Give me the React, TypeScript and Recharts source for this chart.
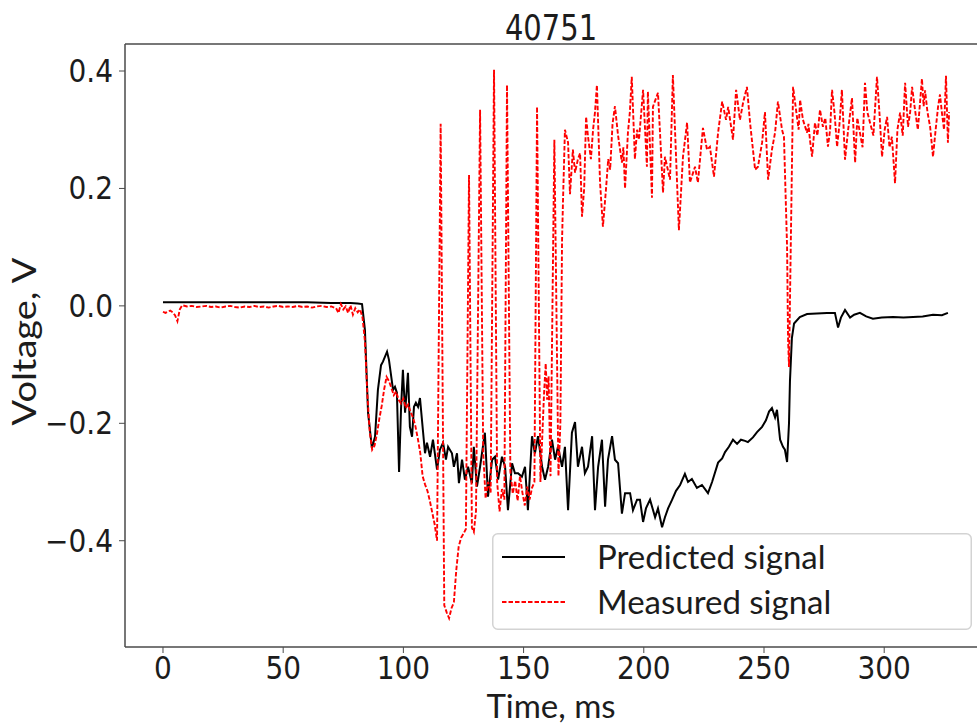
import React from 'react';
import { LineChart, Line, XAxis, YAxis, Legend, ReferenceLine } from 'recharts';

// ---- data ----
const TITLE = '40751';
const X_LABEL = 'Time, ms';
const Y_LABEL = 'Voltage, V';
const X_TICKS = [0, 50, 100, 150, 200, 250, 300];
const Y_TICKS = [-0.4, -0.2, 0, 0.2, 0.4];
const X_DOMAIN: [number, number] = [-15.8, 338.6];
const Y_DOMAIN: [number, number] = [-0.581, 0.446];

const SERIES_NAMES = ['Predicted signal', 'Measured signal'];

// [time ms, voltage V]
const PREDICTED: [number, number][] = [
  [0, 0.006], [10, 0.006], [20, 0.006], [30, 0.006], [40, 0.006], [50, 0.006], [60, 0.006], [70, 0.005],
  [78, 0.005], [81, 0.004], [82.8, 0.003], [84, -0.041], [85.3, -0.182], [86.9, -0.242], [88.2, -0.223],
  [89.4, -0.143], [90.7, -0.101], [91.5, -0.095], [93.2, -0.078], [94, -0.092], [95.3, -0.131], [95.7, -0.143],
  [96.5, -0.138], [97.3, -0.148], [98.2, -0.283], [99, -0.177], [99.8, -0.109], [100.7, -0.182], [101.9, -0.114],
  [102.7, -0.206], [103.6, -0.223], [104.4, -0.172], [105.2, -0.165], [106.1, -0.172], [106.9, -0.157],
  [108.1, -0.211], [109, -0.251], [109.8, -0.233], [111.1, -0.257], [112.3, -0.228], [114, -0.279],
  [115.2, -0.245], [116.5, -0.233], [117.7, -0.262], [118.6, -0.24], [120.2, -0.251], [121, -0.274],
  [122.3, -0.251], [123.1, -0.302], [124.4, -0.262], [125.6, -0.296], [126.9, -0.274], [128.5, -0.302],
  [129.3, -0.24], [130.6, -0.308], [131.9, -0.274], [133.9, -0.216], [135.2, -0.325], [136.9, -0.262],
  [138.1, -0.257], [139.4, -0.296], [141, -0.257], [142.3, -0.274], [143.5, -0.348], [145.2, -0.268],
  [146.4, -0.285], [147.7, -0.285], [149.3, -0.291], [150.6, -0.274], [151.8, -0.348], [153.5, -0.222],
  [154.7, -0.251], [156, -0.222], [157.7, -0.274], [158.9, -0.296], [160.2, -0.274], [161.8, -0.228],
  [163.1, -0.262], [164.3, -0.24], [166, -0.274], [167.2, -0.24], [168.5, -0.348], [170.1, -0.216],
  [171.4, -0.198], [172.6, -0.274], [174.3, -0.24], [175.5, -0.285], [176.8, -0.274], [178.5, -0.222],
  [179.7, -0.348], [181, -0.274], [182.6, -0.228], [183.9, -0.342], [185.1, -0.262], [186.8, -0.222],
  [188, -0.262], [189.3, -0.268], [190.9, -0.354], [192.2, -0.319], [194.3, -0.319], [195.5, -0.348],
  [197.2, -0.33], [198.4, -0.33], [199.7, -0.368], [200.9, -0.345], [202.6, -0.33], [204.7, -0.36],
  [205.9, -0.345], [207.6, -0.377], [208.8, -0.36], [210.1, -0.345], [211.7, -0.331], [213.4, -0.315],
  [215.1, -0.305], [217.1, -0.286], [218.4, -0.3], [220, -0.295], [222.1, -0.31], [224.2, -0.305],
  [226.7, -0.319], [228.4, -0.3], [230.9, -0.267], [232.6, -0.26], [233.8, -0.249], [235.4, -0.24],
  [237.1, -0.228], [238.8, -0.235], [240.4, -0.228], [242.1, -0.23], [243.3, -0.232], [245.4, -0.224],
  [247.1, -0.215], [249.2, -0.206], [250.8, -0.195], [252.1, -0.18], [253.3, -0.174], [254.6, -0.19],
  [255.4, -0.177], [256.7, -0.228], [257.9, -0.24], [258.7, -0.245], [259.6, -0.266], [260.4, -0.2],
  [260.8, -0.128], [261.6, -0.055], [262.5, -0.03], [264.9, -0.019], [267.9, -0.014], [272, -0.013],
  [276.2, -0.012], [279.5, -0.012], [280.8, -0.037], [282, -0.02], [283.7, -0.007], [285.8, -0.02],
  [287.5, -0.015], [289.9, -0.012], [292.5, -0.018], [295.3, -0.022], [299, -0.02], [303.7, -0.019],
  [308, -0.02], [312, -0.019], [316, -0.018], [320.3, -0.015], [324, -0.016], [326.5, -0.012],
];

const MEASURED: [number, number][] = [
  [0, -0.01], [1, -0.012], [2, -0.01], [3, -0.008], [4, -0.011], [5, -0.016], [6, -0.026], [7, -0.006],
  [8, 0.001], [10, -0.001], [12, 0], [14, -0.002], [16, -0.001], [18, 0], [20, -0.002], [22, -0.001],
  [24, -0.003], [26, -0.001], [28, 0], [30, -0.002], [32, -0.003], [34, -0.001], [36, -0.002], [38, 0],
  [40, -0.002], [42, -0.001], [44, -0.003], [46, -0.001], [48, 0], [50, -0.002], [52, -0.001], [54, -0.002],
  [56, 0], [58, -0.002], [60, -0.001], [62, -0.003], [64, -0.001], [66, 0], [68, -0.002], [70, -0.001],
  [72, -0.004], [73, -0.012], [74, 0.003], [75, -0.006], [76, -0.001], [77, -0.012], [78, 0.001],
  [79, -0.015], [80, -0.004], [81, -0.011], [82, -0.006], [83, -0.02], [84, -0.06], [85, -0.15],
  [86, -0.215], [87, -0.245], [88, -0.238], [89, -0.218], [90, -0.192], [91, -0.17], [92, -0.142],
  [93, -0.121], [94, -0.128], [95, -0.14], [96, -0.152], [97, -0.146], [98, -0.16], [99, -0.166],
  [100, -0.158], [101, -0.174], [102, -0.168], [103, -0.181], [104, -0.19], [105, -0.205], [106, -0.226],
  [107, -0.25], [108, -0.29], [109, -0.304], [110, -0.315], [111, -0.332], [112, -0.352], [113, -0.372],
  [114, -0.4], [115.5, 0.31], [117, -0.51], [118, -0.522], [119, -0.532], [120, -0.515], [121, -0.505],
  [122, -0.45], [123, -0.41], [124, -0.395], [125, -0.388], [126, -0.38], [127.3, 0.223], [128.5, -0.378],
  [129.3, -0.385], [130.2, -0.35], [131.9, 0.334], [133.2, -0.25], [134.2, -0.328], [135.2, -0.3],
  [136.3, -0.318], [137.7, 0.402], [139, -0.3], [140, -0.35], [141, -0.312], [142, -0.33], [143.1, 0.376],
  [144.5, -0.282], [145.5, -0.32], [146.5, -0.298], [147.5, -0.332], [148.5, -0.29], [149.5, -0.318],
  [150.5, -0.34], [151.5, -0.308], [152.5, -0.33], [153.5, -0.31], [154.5, -0.3], [155.6, 0.339],
  [157, -0.3], [157.8, -0.22], [158.5, -0.15], [159.2, -0.098], [159.8, -0.16], [160.4, -0.12],
  [161.2, -0.29], [162.8, 0.283], [164.5, -0.29], [165.3, -0.2], [166, 0.112], [166.4, 0.18], [167.2, 0.3],
  [168.5, 0.278], [169.3, 0.19], [170.5, 0.266], [171.4, 0.227], [172.6, 0.25], [173.5, 0.26], [174.3, 0.152],
  [175.2, 0.2], [176, 0.322], [176.8, 0.288], [178, 0.25], [178.9, 0.3], [179.7, 0.33], [180.5, 0.376],
  [181.8, 0.21], [183, 0.135], [184.3, 0.2], [185.2, 0.25], [186, 0.232], [187, 0.31], [188, 0.34],
  [189.3, 0.29], [190.9, 0.244], [191.5, 0.27], [192.2, 0.2], [193.4, 0.295], [194.2, 0.33], [195, 0.39],
  [196.3, 0.25], [197.2, 0.3], [198, 0.283], [199.7, 0.368], [201.3, 0.237], [201.7, 0.365], [203.4, 0.184],
  [203.8, 0.339], [205.9, 0.363], [208, 0.193], [208.8, 0.254], [210.9, 0.215], [212.1, 0.393],
  [214.6, 0.129], [216.3, 0.254], [218, 0.312], [219.2, 0.21], [221.3, 0.237], [222.5, 0.21], [224.6, 0.303],
  [226.3, 0.266], [227.5, 0.271], [229.2, 0.22], [230.9, 0.295], [232.6, 0.348], [234.2, 0.317],
  [235.1, 0.339], [237.1, 0.283], [238.4, 0.368], [240, 0.317], [241.3, 0.346], [242.9, 0.373],
  [244.2, 0.312], [246.3, 0.232], [247.5, 0.237], [249.2, 0.278], [250.4, 0.33], [251.7, 0.215],
  [253.3, 0.266], [254.6, 0.295], [255.8, 0.348], [257.5, 0.3], [258.3, 0.288], [259.6, 0.1], [260, -0.055],
  [260.4, -0.104], [262.1, 0.373], [263.7, 0.322], [264.4, 0.3], [265, 0.351], [266.2, 0.317], [267.9, 0.295],
  [268.5, 0.31], [269.1, 0.283], [270, 0.254], [271.2, 0.312], [272.2, 0.29], [273.3, 0.334], [274.5, 0.305],
  [275.5, 0.32], [276.6, 0.271], [277.5, 0.3], [278.3, 0.368], [279.3, 0.33], [280.4, 0.271], [281.4, 0.31],
  [282.4, 0.368], [283.7, 0.249], [285, 0.3], [286.6, 0.354], [287.9, 0.244], [288.8, 0.32], [289.9, 0.295],
  [291, 0.27], [292, 0.38], [293, 0.33], [294.1, 0.312], [295.5, 0.29], [297, 0.39], [298, 0.33],
  [299.1, 0.254], [300.2, 0.3], [301.2, 0.322], [302.2, 0.27], [303.2, 0.288], [304.5, 0.209], [305.5, 0.3],
  [306.6, 0.329], [307.7, 0.29], [308.7, 0.38], [309.9, 0.305], [310.8, 0.33], [311.6, 0.373], [312.8, 0.334],
  [314, 0.3], [315.7, 0.387], [316.4, 0.34], [317, 0.367], [318, 0.33], [319.1, 0.305], [320.3, 0.254],
  [321.4, 0.3], [322.4, 0.339], [323.2, 0.36], [324, 0.329], [324.9, 0.3], [325.7, 0.392], [326.5, 0.278],
  [327, 0.33],
];

// ---- styling ----
const SPINE = '#4a4a4a';
const TEXT = '#1c1c1c';
const TICK_FONT = '"DejaVu Sans", sans-serif';
const LABEL_FONT = 'Lato, "Open Sans", sans-serif';
const SY = 1.12;
const PRED_COLOR = '#000000';
const MEAS_COLOR = '#ff0000';
const MEAS_DASH = '4.5 2';

const predictedData = PREDICTED.map(([t, v]) => ({ t, v }));
const measuredData = MEASURED.map(([t, v]) => ({ t, v }));

const fmtY = (v: number) => v.toFixed(1).replace('-', '\u2212');

const XTick = (props: any) => {
  const { x, y, payload } = props;
  return (
    <g transform={`translate(${x},${y})`}>
      <text transform={`scale(1,${SY})`} x={0} y={24 / SY} textAnchor="middle"
        fontFamily={TICK_FONT} fontSize={28} fill={TEXT}>{payload.value}</text>
    </g>
  );
};

const YTick = (props: any) => {
  const { x, y, payload } = props;
  return (
    <g transform={`translate(${x},${y})`}>
      <text transform={`scale(1,${SY})`} x={0} y={11 / SY} textAnchor="end"
        fontFamily={TICK_FONT} fontSize={28} fill={TEXT}>{fmtY(payload.value)}</text>
    </g>
  );
};

const renderTitle = (props: any) => {
  const vb = props.viewBox || {};
  const cx = (vb.x ?? 125) + (vb.width ?? 852) / 2;
  return (
    <g transform={`translate(${cx},40)`}>
      <text transform="scale(1,1.2)" x={0} y={0} textAnchor="middle" fontFamily={TICK_FONT}
        fontSize={29} fill={TEXT}>{TITLE}</text>
    </g>
  );
};

const renderXLabel = (props: any) => {
  const vb = props.viewBox || {};
  const cx = vb.x + vb.width / 2;
  return (
    <text x={cx} y={718} textAnchor="middle" fontFamily={LABEL_FONT} fontSize={33} fill={TEXT}>{X_LABEL}</text>
  );
};

const renderYLabel = (props: any) => {
  const vb = props.viewBox || {};
  const cy = vb.y + vb.height / 2;
  return (
    <g transform={`translate(36,${cy - 4}) scale(1,1.15) rotate(-90)`}>
      <text x={0} y={0} textAnchor="middle" fontFamily={LABEL_FONT} fontSize={33} fill={TEXT}>{Y_LABEL}</text>
    </g>
  );
};

const renderLegend = () => (
  <svg width={480} height={97} style={{ display: 'block' }}>
    <rect x={0.75} y={0.75} width={478.5} height={95.5} rx={5} ry={5} fill="rgba(255,255,255,0.85)"
      stroke="#d3d3d3" strokeWidth={1.5} />
    <line x1={10} x2={73} y1={24} y2={24} stroke={PRED_COLOR} strokeWidth={2} />
    <text x={105} y={36} fontFamily={LABEL_FONT} fontSize={33} fill={TEXT}>{SERIES_NAMES[0]}</text>
    <line x1={10} x2={73} y1={69} y2={69} stroke={MEAS_COLOR} strokeWidth={1.8} strokeDasharray={MEAS_DASH} />
    <text x={105} y={81} fontFamily={LABEL_FONT} fontSize={33} fill={TEXT}>{SERIES_NAMES[1]}</text>
  </svg>
);

export default function App() {
  return (
    <div style={{ position: 'absolute', left: 0, top: 0, width: 977, height: 727, background: '#fff' }}>
      <LineChart width={977} height={727} margin={{ top: 44, right: 0, bottom: 0, left: 0 }}>
        <XAxis xAxisId="main" type="number" dataKey="t" domain={X_DOMAIN} allowDataOverflow ticks={X_TICKS}
          height={80} tickSize={6} tickMargin={2} tick={<XTick />} interval={0}
          axisLine={{ stroke: SPINE, strokeWidth: 1.5 }} tickLine={{ stroke: SPINE, strokeWidth: 1 }}
          label={{ content: renderXLabel }} />
        <YAxis yAxisId="main" type="number" domain={Y_DOMAIN} allowDataOverflow ticks={Y_TICKS} width={125}
          tickSize={6} tickMargin={6} tick={<YTick />} interval={0}
          axisLine={{ stroke: SPINE, strokeWidth: 1.5 }} tickLine={{ stroke: SPINE, strokeWidth: 1 }}
          label={{ content: renderYLabel }} />
        <ReferenceLine xAxisId="main" yAxisId="main" y={Y_DOMAIN[1]} stroke={SPINE} strokeWidth={1.5}
          ifOverflow="visible" label={{ content: renderTitle }} />
        <Line xAxisId="main" yAxisId="main" data={predictedData} dataKey="v" name={SERIES_NAMES[0]}
          type="linear" stroke={PRED_COLOR} strokeWidth={2} dot={false} isAnimationActive={false} />
        <Line xAxisId="main" yAxisId="main" data={measuredData} dataKey="v" name={SERIES_NAMES[1]}
          type="linear" stroke={MEAS_COLOR} strokeWidth={1.9} strokeDasharray={MEAS_DASH} dot={false}
          isAnimationActive={false} />
        <Legend layout="vertical" align="center" verticalAlign="middle" content={renderLegend}
          wrapperStyle={{ left: 492, top: 533, width: 480, height: 97 }} />
      </LineChart>
    </div>
  );
}
